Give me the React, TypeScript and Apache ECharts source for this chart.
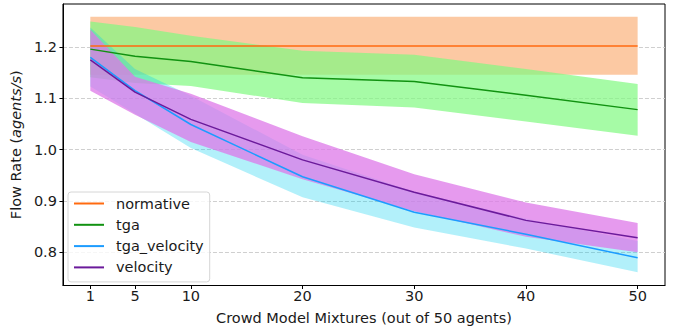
import React, { useEffect, useRef } from "react";
import * as echarts from "echarts";

const mixtures = [1, 5, 10, 20, 30, 40, 50];
const xTicks = [1, 5, 10, 20, 30, 40, 50];
const yTicks = [0.8, 0.9, 1.0, 1.1, 1.2];

const normativeMean = [1.202, 1.202, 1.202, 1.202, 1.202, 1.202, 1.202];
const normativeLow = [1.146, 1.146, 1.146, 1.146, 1.146, 1.146, 1.146];
const normativeHigh = [1.259, 1.259, 1.259, 1.259, 1.259, 1.259, 1.259];

const tgaMean = [1.196, 1.182, 1.172, 1.14, 1.133, 1.106, 1.078];
const tgaLow = [1.141, 1.13, 1.124, 1.091, 1.082, 1.055, 1.027];
const tgaHigh = [1.25, 1.239, 1.222, 1.193, 1.185, 1.157, 1.128];

const tgaVelMean = [1.18, 1.115, 1.049, 0.947, 0.878, 0.835, 0.789];
const tgaVelLow = [1.123, 1.07, 1.003, 0.907, 0.848, 0.807, 0.761];
const tgaVelHigh = [1.238, 1.157, 1.105, 0.99, 0.918, 0.865, 0.822];

const velMean = [1.175, 1.112, 1.059, 0.98, 0.917, 0.862, 0.828];
const velLow = [1.115, 1.068, 1.015, 0.942, 0.88, 0.83, 0.8];
const velHigh = [1.234, 1.142, 1.109, 1.026, 0.952, 0.897, 0.857];

const FONT = "DejaVu Sans";
const TEXT = "#1a1a1a";
const FS = 14.5;

function band(name: string, lo: number[], hi: number[], fill: string) {
  return {
    type: "custom",
    name,
    silent: true,
    clip: true,
    encode: { x: 0, y: 1 },
    data: [[mixtures[0], lo[0]]],
    renderItem: (params: any, api: any) => {
      if (params.dataIndex !== 0) return null;
      const pts: number[][] = [];
      for (let i = 0; i < mixtures.length; i++) pts.push(api.coord([mixtures[i], hi[i]]));
      for (let i = mixtures.length - 1; i >= 0; i--) pts.push(api.coord([mixtures[i], lo[i]]));
      return { type: "polygon", shape: { points: pts }, style: { fill } };
    },
  };
}

function line(name: string, vals: number[], color: string) {
  return {
    type: "line",
    name,
    data: mixtures.map((x, i) => [x, vals[i]]),
    showSymbol: false,
    symbol: "none",
    lineStyle: { color, width: 1.5 },
    itemStyle: { color },
    z: 5,
  };
}

export default function App() {
  const ref = useRef<HTMLDivElement>(null);
  useEffect(() => {
    const chart = echarts.init(ref.current!, null, { renderer: "svg" });
    chart.setOption({
      animation: false,
      backgroundColor: "#fff",
      grid: {
        left: 61,
        right: 13,
        top: 4,
        bottom: 41,
        show: true,
        borderColor: "#000",
        borderWidth: 1,
        backgroundColor: "transparent",
      },
      xAxis: {
        type: "value",
        min: -1.45,
        max: 52.45,
        name: "Crowd Model Mixtures (out of 50 agents)",
        nameLocation: "middle",
        nameGap: 24.5,
        nameTextStyle: { fontFamily: FONT, fontSize: FS, color: TEXT },
        axisLine: { show: true, onZero: false, lineStyle: { color: "#000", width: 1 } },
        axisTick: { show: true, customValues: xTicks, length: 3.5, lineStyle: { color: "#000" } },
        axisLabel: {
          customValues: xTicks,
          fontFamily: FONT,
          fontSize: FS,
          color: TEXT,
          margin: 3,
        },
        splitLine: { show: false },
      },
      yAxis: {
        type: "value",
        min: 0.735,
        max: 1.284,
        name: "Flow Rate ({i|agents/s})",
        nameLocation: "middle",
        nameGap: 33.5,
        nameTextStyle: {
          fontFamily: FONT,
          fontSize: FS,
          color: TEXT,
          rich: { i: { fontStyle: "italic", fontFamily: FONT, fontSize: FS, color: TEXT } },
        },
        axisLine: { show: true, onZero: false, lineStyle: { color: "#000", width: 1 } },
        axisTick: { show: true, customValues: yTicks, length: 3.5, lineStyle: { color: "#000" } },
        axisLabel: {
          customValues: yTicks,
          fontFamily: FONT,
          fontSize: FS,
          color: TEXT,
          margin: 6,
          formatter: (v: number) => v.toFixed(1),
        },
        splitLine: { show: true, lineStyle: { color: "#cfcfcf", type: [4, 2], width: 1 } },
      },
      legend: {
        orient: "vertical",
        left: 68,
        top: 192,
        data: ["normative", "tga", "tga_velocity", "velocity"],
        icon: "rect",
        itemWidth: 30,
        itemHeight: 2,
        itemGap: 6.3,
        padding: [4, 6, 7, 6],
        borderColor: "#d6d6d6",
        borderWidth: 1,
        borderRadius: 3,
        backgroundColor: "rgba(255,255,255,0.8)",
        textStyle: { fontFamily: FONT, fontSize: FS, color: TEXT, padding: [0, 0, 0, 7] },
      },
      series: [
        band("normative_band", normativeLow, normativeHigh, "#fcc9a3"),
        band("tga_band", tgaLow, tgaHigh, "rgba(128,249,128,0.7)"),
        band("tga_velocity_band", tgaVelLow, tgaVelHigh, "rgba(0,205,240,0.3)"),
        band("velocity_band", velLow, velHigh, "rgba(221,119,232,0.74)"),
        line("normative", normativeMean, "#ff6a10"),
        line("tga", tgaMean, "#119211"),
        line("tga_velocity", tgaVelMean, "#1c9cff"),
        line("velocity", velMean, "#6b1a9b"),
      ],
    });
    return () => chart.dispose();
  }, []);
  return (
    <div
      ref={ref}
      style={{ position: "absolute", left: 0, top: 0, width: 678, height: 330 }}
    />
  );
}
